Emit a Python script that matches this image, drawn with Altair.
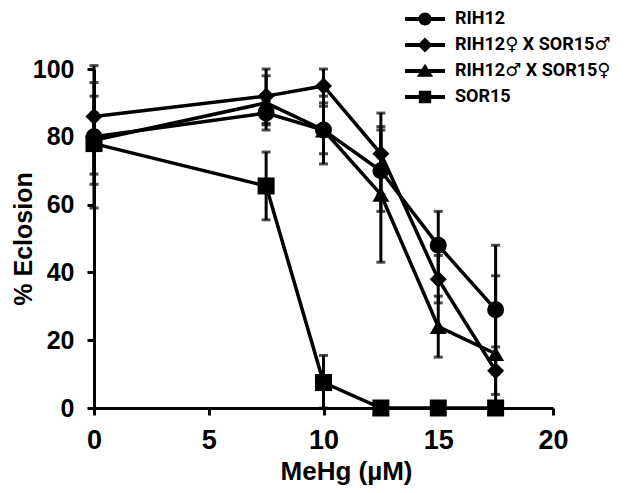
import altair as alt
import numpy as np
import pandas as pd

doses = [0, 7.5, 10, 12.5, 15, 17.5]
series_names = ["RIH12", "RIH12♀ X SOR15♂", "RIH12♂ X SOR15♀", "SOR15"]

rih12 = [80, 87, 82, 70, 48, 29]
rih12_err = [21, 3.5, 10, 12, 10, 19]
cross_f = [86, 92, 95, 75, 38, 11]
cross_f_err = [10, 8, 5, 12, 7, 7]
cross_m = [79, 90, 82, 63, 24, 16]
cross_m_err = [13, 8, 7, 20, 9, 23]
sor15 = [78, 65.5, 7.5, 0, 0, 0]
sor15_err = [9, 10, 8, 0, 0, 0]

x_ticks = [0, 5, 10, 15, 20]
y_ticks = [0, 20, 40, 60, 80, 100]

rows = []
for name, vals, errs in zip(series_names,
                            [rih12, cross_f, cross_m, sor15],
                            [rih12_err, cross_f_err, cross_m_err, sor15_err]):
    for d, v, e in zip(doses, vals, errs):
        rows.append({"dose": d, "value": v, "series": name,
                     "lo": max(v - e, 0), "hi": v + e})
df = pd.DataFrame(rows)

FONT = "Liberation Sans"

x_enc = alt.X("dose:Q", scale=alt.Scale(domain=[0, 20], nice=False),
              axis=alt.Axis(values=x_ticks, title="MeHg (µM)", labelFontSize=27,
                            labelPadding=12, labelFlush=False, titleFontSize=26,
                            titleX=252, titleY=50,
                            titleBaseline="top", titleAlign="center"))
y_enc = alt.Y("value:Q", scale=alt.Scale(domain=[0, 100], nice=False),
              axis=alt.Axis(values=y_ticks, title="% Eclosion", labelFontSize=25,
                            labelPadding=13, labelFlush=False, titleFontSize=25,
                            titleX=-70.5, titleY=169.5,
                            titleBaseline="middle", titleAlign="center",
                            titleAngle=270))

base = alt.Chart(df)

lines = base.mark_line(color="black", strokeWidth=3.5).encode(
    x=x_enc, y=y_enc, detail="series:N")

bars = base.mark_rule(color="black", strokeWidth=3).encode(
    x="dose:Q", y="lo:Q", y2="hi:Q")
cap_lo = base.mark_tick(color="black", thickness=3, size=9, orient="horizontal").encode(
    x="dose:Q", y="lo:Q")
cap_hi = base.mark_tick(color="black", thickness=3, size=9, orient="horizontal").encode(
    x="dose:Q", y="hi:Q")

points = base.mark_point(filled=True, color="black", opacity=1, size=289).encode(
    x="dose:Q", y="value:Q",
    shape=alt.Shape("series:N",
                    scale=alt.Scale(domain=series_names,
                                    range=["circle", "diamond", "triangle-up", "square"]),
                    legend=None))

line_path = "M-2,-0.19H2V0.19H-2Z"
legend_shapes = [
    line_path + "M0.65,0A0.65,0.65 0 1,1 -0.65,0A0.65,0.65 0 1,1 0.65,0Z",
    line_path + "M0,-0.75L0.75,0L0,0.75L-0.75,0Z",
    line_path + "M0,-0.72L0.82,0.58L-0.82,0.58Z",
    line_path + "M-0.62,-0.62H0.62V0.62H-0.62Z",
]

legend_layer = base.mark_point(filled=True, color="black", opacity=0, size=400).encode(
    x="dose:Q", y="value:Q",
    shape=alt.Shape("series:N",
                    scale=alt.Scale(domain=series_names, range=legend_shapes),
                    legend=alt.Legend(title=None, orient="none", legendX=321, legendY=-60,
                                      symbolSize=400, symbolOpacity=1,
                                      symbolFillColor="black", symbolStrokeWidth=0,
                                      labelFont="Roboto, DejaVu Sans", labelFontSize=18,
                                      labelFontWeight="bold", labelColor="black",
                                      labelOffset=20, rowPadding=7, padding=0,
                                      labelLimit=400)))

chart = alt.layer(lines, bars, cap_lo, cap_hi, points, legend_layer).resolve_scale(
    shape="independent"
).properties(
    width=459, height=339,
    autosize=alt.AutoSizeParams(type="none"),
    padding={"left": 86, "top": 61, "right": 79, "bottom": 77},
).configure_view(stroke=None).configure_axis(
    grid=False, domainColor="black", domainWidth=3, tickColor="black",
    tickWidth=3, tickSize=7, labelFont=FONT, labelFontWeight="bold",
    labelColor="black", titleFont=FONT, titleFontWeight="bold",
    titleColor="black",
)

chart.save("out.html", embed_options={"renderer": "svg", "actions": False})
